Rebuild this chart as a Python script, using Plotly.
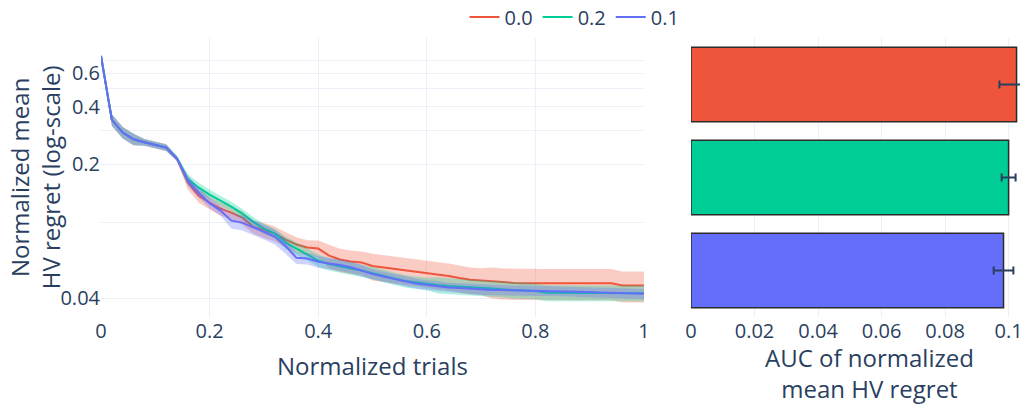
import plotly.graph_objects as go

# ---------------- data ----------------
trials = [0.0, 0.02, 0.04, 0.06, 0.08, 0.1, 0.12, 0.14, 0.16, 0.18,
          0.2, 0.22, 0.24, 0.26, 0.28, 0.3, 0.32, 0.34, 0.36, 0.38,
          0.4, 0.42, 0.44, 0.46, 0.48, 0.5, 0.52, 0.54, 0.56, 0.58,
          0.6, 0.62, 0.64, 0.66, 0.68, 0.7, 0.72, 0.74, 0.76, 0.78,
          0.8, 0.82, 0.84, 0.86, 0.88, 0.9, 0.92, 0.94, 0.96, 0.98, 1.0]

names = ["0.0", "0.2", "0.1"]

mean_00 = [0.736, 0.3415, 0.2932, 0.2703, 0.2607, 0.2530, 0.2449, 0.2139, 0.1604, 0.1372,
           0.1262, 0.1174, 0.1119, 0.1054, 0.0946, 0.0907, 0.0870, 0.0810, 0.0763, 0.0736,
           0.0727, 0.0668, 0.0637, 0.0622, 0.0615, 0.0589, 0.0579, 0.0568, 0.0558, 0.0552,
           0.0542, 0.0529, 0.0523, 0.0510, 0.0499, 0.0495, 0.0489, 0.0483, 0.0481, 0.0479,
           0.0479, 0.0479, 0.0479, 0.0479, 0.0479, 0.0479, 0.0479, 0.0479, 0.0466, 0.0466, 0.0466]
std_00 = [0.0147, 0.0239, 0.0205, 0.0189, 0.0104, 0.0101, 0.0098, 0.0064, 0.0128, 0.0110,
          0.0101, 0.0094, 0.0090, 0.0084, 0.0076, 0.0082, 0.0078, 0.0073, 0.0069, 0.0066,
          0.0073, 0.0094, 0.0089, 0.0087, 0.0086, 0.0094, 0.0093, 0.0091, 0.0089, 0.0088,
          0.0087, 0.0085, 0.0084, 0.0082, 0.0080, 0.0079, 0.0090, 0.0089, 0.0089, 0.0089,
          0.0089, 0.0089, 0.0089, 0.0089, 0.0089, 0.0089, 0.0089, 0.0089, 0.0086, 0.0086, 0.0086]

mean_02 = [0.736, 0.3415, 0.2932, 0.2703, 0.2607, 0.2530, 0.2449, 0.2152, 0.1677, 0.1511,
           0.1389, 0.1292, 0.1203, 0.1106, 0.1005, 0.0924, 0.0870, 0.0781, 0.0727, 0.0681,
           0.0629, 0.0604, 0.0586, 0.0572, 0.0558, 0.0542, 0.0526, 0.0507, 0.0492, 0.0483,
           0.0476, 0.0469, 0.0464, 0.0461, 0.0457, 0.0454, 0.0450, 0.0445, 0.0441, 0.0438,
           0.0436, 0.0427, 0.0427, 0.0427, 0.0427, 0.0427, 0.0427, 0.0427, 0.0427, 0.0427, 0.0425]
std_02 = [0.0147, 0.0239, 0.0205, 0.0189, 0.0104, 0.0101, 0.0098, 0.0065, 0.0101, 0.0091,
          0.0083, 0.0078, 0.0072, 0.0066, 0.0060, 0.0055, 0.0052, 0.0059, 0.0055, 0.0051,
          0.0047, 0.0045, 0.0044, 0.0043, 0.0042, 0.0041, 0.0039, 0.0038, 0.0037, 0.0036,
          0.0036, 0.0045, 0.0044, 0.0044, 0.0043, 0.0043, 0.0043, 0.0042, 0.0042, 0.0042,
          0.0041, 0.0041, 0.0041, 0.0041, 0.0041, 0.0041, 0.0041, 0.0041, 0.0041, 0.0041, 0.0041]

mean_01 = [0.736, 0.3415, 0.2932, 0.2703, 0.2607, 0.2530, 0.2449, 0.2139, 0.1643, 0.1423,
           0.1255, 0.1147, 0.1017, 0.0993, 0.0941, 0.0891, 0.0839, 0.0749, 0.0650, 0.0645,
           0.0620, 0.0607, 0.0597, 0.0581, 0.0558, 0.0535, 0.0520, 0.0504, 0.0491, 0.0478,
           0.0469, 0.0464, 0.0455, 0.0452, 0.0448, 0.0443, 0.0442, 0.0441, 0.0440, 0.0440,
           0.0439, 0.0437, 0.0435, 0.0434, 0.0432, 0.0431, 0.0429, 0.0427, 0.0425, 0.0424, 0.0422]
std_01 = [0.0147, 0.0239, 0.0205, 0.0189, 0.0104, 0.0101, 0.0098, 0.0064, 0.0099, 0.0085,
          0.0075, 0.0069, 0.0092, 0.0089, 0.0085, 0.0080, 0.0076, 0.0067, 0.0046, 0.0045,
          0.0043, 0.0042, 0.0042, 0.0041, 0.0039, 0.0032, 0.0031, 0.0030, 0.0029, 0.0029,
          0.0028, 0.0028, 0.0027, 0.0027, 0.0027, 0.0027, 0.0027, 0.0026, 0.0026, 0.0026,
          0.0026, 0.0026, 0.0026, 0.0026, 0.0026, 0.0026, 0.0026, 0.0026, 0.0026, 0.0026, 0.0026]

auc_mean = [0.1025, 0.1000, 0.0984]
auc_err = [0.0054, 0.0022, 0.0031]

y_tickvals = [0.04, 0.1, 0.2, 0.3, 0.4, 0.5, 0.6, 0.7]
y_ticktext = ["0.04", "", "0.2", "", "0.4", "", "0.6", ""]
x_tickvals = [0, 0.2, 0.4, 0.6, 0.8, 1]
x_ticktext = ["0", "0.2", "0.4", "0.6", "0.8", "1"]
x2_tickvals = [0, 0.02, 0.04, 0.06, 0.08, 0.1]
x2_ticktext = ["0", "0.02", "0.04", "0.06", "0.08", "0.1"]

# ---------------- style ----------------
colors = ["#EF553B", "#00CC96", "#636EFA"]
fills = ["rgba(239,85,59,0.3)", "rgba(0,204,150,0.3)", "rgba(99,110,250,0.3)"]
font_color = "#2a3f5f"

fig = go.Figure()

series = [(mean_00, std_00), (mean_02, std_02), (mean_01, std_01)]
for (m, s), name, c, fc in zip(series, names, colors, fills):
    upper = [a + b for a, b in zip(m, s)]
    lower = [a - b for a, b in zip(m, s)]
    fig.add_trace(go.Scatter(x=trials + trials[::-1], y=upper + lower[::-1],
                             fill="toself", fillcolor=fc, line=dict(width=0),
                             mode="lines", hoverinfo="skip", showlegend=False,
                             xaxis="x", yaxis="y"))
    fig.add_trace(go.Scatter(x=trials, y=m, mode="lines", name=name,
                             line=dict(color=c, width=2), xaxis="x", yaxis="y"))

fig.add_trace(go.Bar(x=auc_mean, y=names, orientation="h",
                     marker=dict(color=colors, line=dict(color="#2b2b2b", width=1.5)),
                     error_x=dict(type="data", array=auc_err, color=font_color,
                                  thickness=2, width=4),
                     showlegend=False, xaxis="x2", yaxis="y2"))

# figure sits at an 8px page offset (default body margin)
W, H = 1040, 397
ml, mr, mt, mb = 93, 0, 30, 88
pw = W - ml - mr

fig.update_layout(
    template="plotly_white",
    width=W, height=H,
    margin=dict(l=ml, r=mr, t=mt, b=mb, autoexpand=False),
    font=dict(family="Open Sans, verdana, arial, sans-serif", size=20, color=font_color),
    legend=dict(orientation="h", x=0.5, xanchor="center", y=1.075, yanchor="middle",
                font=dict(size=20)),
    bargap=0.2,
    xaxis=dict(domain=[0, 543 / pw], range=[0, 1],
               tickvals=x_tickvals, ticktext=x_ticktext,
               title=dict(text="Normalized trials", font=dict(size=24)),
               zeroline=False, automargin=False),
    yaxis=dict(type="log", range=[-1.496, -0.039],
               tickvals=y_tickvals, ticktext=y_ticktext,
               automargin=False),
    xaxis2=dict(domain=[(683 - ml) / pw, 1], range=[0, 0.1124], anchor="y2",
                tickvals=x2_tickvals, ticktext=x2_ticktext,
                title=dict(text="AUC of normalized<br>mean HV regret", font=dict(size=24)),
                zeroline=False, automargin=False),
    yaxis2=dict(anchor="x2", autorange="reversed", showticklabels=False,
                showgrid=False, automargin=False),
    annotations=[dict(text="Normalized mean<br>HV regret (log-scale)", textangle=-90,
                      xref="paper", yref="paper", x=(26.75 - ml) / pw, y=0.5,
                      xanchor="center", yanchor="middle", showarrow=False,
                      font=dict(size=24, color=font_color))],
)

fig.write_html("out.html")
